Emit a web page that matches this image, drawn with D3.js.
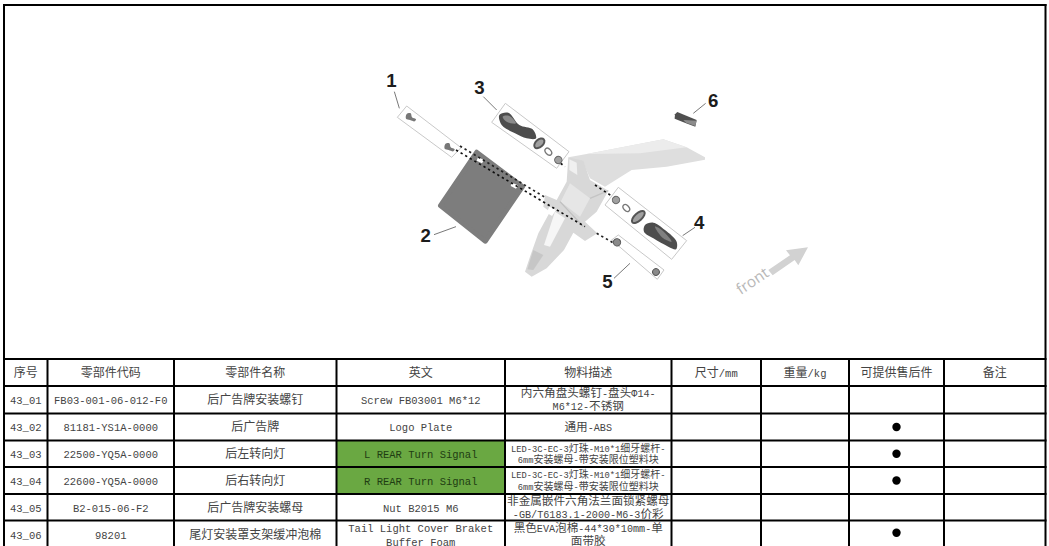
<!DOCTYPE html>
<html>
<head>
    <meta charset="utf-8"/>
    <style>
        html, body { margin: 0; padding: 0; background: #fff; overflow: hidden; }
        text { font-family: "Liberation Mono", "Noto Sans CJK SC", monospace; fill: #444; }
    </style>
</head>
<body>
<div id="sheet"></div>
<script src="https://cdn.jsdelivr.net/npm/d3@7"></script>
<script type="text/javascript">

    // table content
    var headers = ["序号", "零部件代码", "零部件名称", "英文", "物料描述", "尺寸/mm", "重量/kg", "可提供售后件", "备注"];
    var seqNos = ["43_01", "43_02", "43_03", "43_04", "43_05", "43_06"];
    var partCodes = ["FB03-001-06-012-F0", "81181-YS1A-0000", "22500-YQ5A-0000", "22600-YQ5A-0000", "B2-015-06-F2", "98201"];
    var partNames = ["后广告牌安装螺钉", "后广告牌", "后左转向灯", "后右转向灯", "后广告牌安装螺母", "尾灯安装罩支架缓冲泡棉"];
    var englishNames = [["Screw FB03001 M6*12"], ["Logo Plate"], ["L REAR Turn Signal"], ["R REAR Turn Signal"], ["Nut B2015 M6"], ["Tail Light Cover Braket", "Buffer Foam"]];
    var descriptions = [
        ["内六角盘头螺钉-盘头Φ14-", "M6*12-不锈钢"],
        ["通用-ABS"],
        ["LED-3C-EC-3灯珠-M10*1细牙螺杆-", "6mm安装螺母-带安装限位塑料块"],
        ["LED-3C-EC-3灯珠-M10*1细牙螺杆-", "6mm安装螺母-带安装限位塑料块"],
        ["非金属嵌件六角法兰面锁紧螺母", "-GB/T6183.1-2000-M6-3价彩"],
        ["黑色EVA泡棉-44*30*10mm-单", "面带胶"]
    ];
    var afterSale = [false, true, true, true, false, true];
    var highlighted = [false, false, true, true, false, false];

    var w = 1049;
    var h = 546;
    var columnEdges = [4, 47.5, 174, 336.5, 505, 671.5, 761, 849, 944, 1045.5];
    var rowEdges = [359, 386, 413.5, 440.5, 467, 494, 520.5, 560];
    var green = "#6aa842";
    var latinRatio = 0.875;

    var svg = d3.select("#sheet")
        .append("svg")
        .attr("width", w)
        .attr("height", h)
        .style("display", "block");

    var defs = svg.append("defs");
    defs.append("filter").attr("id", "soft")
        .append("feGaussianBlur").attr("stdDeviation", 1.5);

    function colMid(i) {
        return (columnEdges[i] + columnEdges[i + 1]) / 2;
    }

    // ---------- illustration, sketched in 3x crop coordinates ----------
    var outline = d3.line().curve(d3.curveLinearClosed);
    var smooth = d3.line().curve(d3.curveCatmullRomClosed);

    var art = svg.append("g")
        .attr("transform", "translate(540,70) scale(0.3333)");
    var parts = art.append("g").attr("filter", "url(#soft)");

    function poly(pts, fill, stroke, sw) {
        parts.append("path").attr("d", outline(pts)).attr("fill", fill)
            .attr("stroke", stroke || "none").attr("stroke-width", stroke ? (sw || 3) : 0)
            .attr("stroke-linejoin", "round");
    }

    function blob(pts, fill) {
        parts.append("path").attr("d", smooth(pts)).attr("fill", fill);
    }

    function seg(a, b, color, width, dash) {
        parts.append("line")
            .attr("x1", a[0]).attr("y1", a[1]).attr("x2", b[0]).attr("y2", b[1])
            .attr("stroke", color).attr("stroke-width", width)
            .attr("stroke-dasharray", dash || null);
    }

    function ring(cx, cy, rx, ry, fill, stroke, sw) {
        parts.append("ellipse")
            .attr("cx", 0).attr("cy", 0).attr("rx", rx).attr("ry", ry)
            .attr("transform", "translate(" + cx + "," + cy + ") rotate(-42)")
            .attr("fill", fill).attr("stroke", stroke).attr("stroke-width", sw);
    }

    // fender and bracket
    poly([[85, 262], [140, 252], [370, 208], [440, 232], [495, 262], [495, 269], [380, 290], [275, 300], [195, 350], [150, 325], [130, 280]], "#dedede");
    poly([[140, 252], [370, 208], [440, 232], [300, 250]], "#ececec");
    poly([[85, 262], [130, 272], [150, 330], [205, 362], [170, 425], [135, 455], [172, 490], [135, 513], [100, 488], [72, 540], [20, 595], [-25, 620], [-45, 605], [-30, 560], [-5, 490], [30, 425], [10, 410], [15, 375], [50, 390], [80, 335]], "#d8d8d8");
    poly([[45, 425], [75, 445], [30, 530], [12, 525]], "#f6f6f6");
    poly([[28, 410], [48, 420], [36, 438], [20, 428]], "#ffffff");
    poly([[90, 340], [150, 385], [120, 440], [62, 395]], "#e6e6e6");
    poly([[88, 268], [110, 278], [112, 315], [88, 300]], "#f0f0f0");
    poly([[-20, 540], [10, 555], [-20, 600], [-38, 598]], "#c6c6c6");
    seg([60, 395], [130, 470], "#c0c0c0", 4);
    seg([150, 385], [205, 362], "#c4c4c4", 4);

    // exploded part frames
    poly([[-428, 142], [-400, 108], [-237, 233], [-265, 262]], "#ffffff", "#c8c8c8");
    poly([[-145, 157], [-104, 100], [87, 245], [50, 295]], "#ffffff", "#c8c8c8");
    poly([[195, 405], [235, 352], [440, 512], [395, 568]], "#ffffff", "#c8c8c8");
    poly([[215, 510], [235, 495], [372, 600], [352, 628]], "#ffffff", "#c8c8c8");

    // licence plate
    poly([[-190, 246], [-52, 350], [-164, 514], [-299, 407]], "#7d7d7d", "#7d7d7d", 14);
    poly([[-186, 262], [-168, 270], [-174, 280], [-190, 272]], "#ffffff");
    poly([[-84, 338], [-66, 346], [-72, 356], [-88, 348]], "#ffffff");

    // fixing lines
    seg([-240, 228], [15, 382], "#222222", 5, "7 9");
    seg([-252, 240], [135, 470], "#111111", 5, "7 9");
    seg([165, 345], [212, 376], "#111111", 5, "7 9");
    seg([170, 490], [222, 520], "#222222", 5, "7 9");
    seg([62, 280], [75, 290], "#111111", 5, "7 9");

    // screws
    blob([[-400, 132], [-388, 130], [-384, 142], [-372, 148], [-376, 154], [-390, 150], [-402, 146]], "#777777");
    blob([[-284, 222], [-272, 220], [-268, 232], [-256, 238], [-260, 244], [-274, 240], [-286, 236]], "#777777");

    // lamp 3
    blob([[-122, 135], [-95, 128], [-62, 165], [-22, 178], [-12, 205], [-40, 205], [-75, 190], [-115, 165]], "#4e4e4e");
    blob([[-112, 140], [-92, 138], [-72, 160], [-100, 155]], "#8a8a8a");
    ring(-2, 220, 18, 11, "#a0a0a0", "#555555", 6);
    ring(25, 245, 8, 12, "#ffffff", "#777777", 4);
    ring(55, 270, 11, 11, "#a0a0a0", "#666666", 3);

    // lamp 4
    ring(228, 390, 11, 11, "#a0a0a0", "#666666", 3);
    ring(259, 414, 8, 12, "#ffffff", "#777777", 4);
    ring(295, 441, 24, 11, "#a0a0a0", "#555555", 6);
    blob([[315, 465], [340, 458], [375, 480], [410, 515], [408, 538], [385, 530], [340, 505], [312, 485]], "#4e4e4e");
    blob([[345, 470], [368, 482], [395, 515], [370, 505]], "#808080");

    // nuts
    ring(231, 517, 11, 11, "#8a8a8a", "#555555", 3);
    ring(348, 606, 10, 10, "#8a8a8a", "#555555", 3);

    // foam pad
    poly([[405, 133], [412, 126], [470, 150], [466, 170], [438, 160], [404, 146]], "#505050");
    poly([[430, 150], [470, 152], [466, 168], [438, 158]], "#8c8c8c");

    // front arrow
    poly([[685, 600], [750, 556], [738, 541], [804, 532], [775, 586], [764, 570], [698, 616]], "#d2d2d2");

    // leaders
    seg([-437, 65], [-422, 115], "#777777", 3);
    seg([-170, 80], [-130, 120], "#777777", 3);
    seg([-318, 494], [-252, 470], "#777777", 3);
    seg([428, 497], [465, 472], "#777777", 3);
    seg([222, 625], [270, 580], "#777777", 3);
    seg([460, 130], [497, 100], "#777777", 3);

    var calloutLabels = ["1", "2", "3", "4", "5", "6"];
    var calloutX = [-446, -343, -182, 478, 202, 520];
    var calloutY = [30, 495, 52, 456, 635, 92];
    art.selectAll("text.callout")
        .data(calloutLabels)
        .enter()
        .append("text")
        .attr("class", "callout")
        .attr("x", function (d, i) { return calloutX[i]; })
        .attr("y", function (d, i) { return calloutY[i]; })
        .attr("dy", ".36em")
        .attr("text-anchor", "middle")
        .attr("font-size", 56)
        .attr("font-weight", 700)
        .style("font-family", "'Liberation Sans'")
        .style("fill", "#1c1c1c")
        .text(function (d) { return d; });

    art.append("text")
        .attr("transform", "translate(602,676) rotate(-34)")
        .attr("font-size", 46)
        .style("font-family", "'Open Sans'")
        .style("fill", "#b8b8b8")
        .text("front");

    // ---------- table ----------
    var table = svg.append("g");

    highlighted.forEach(function (on, r) {
        if (!on) return;
        table.append("rect")
            .attr("x", columnEdges[3]).attr("width", columnEdges[4] - columnEdges[3])
            .attr("y", rowEdges[r + 1]).attr("height", rowEdges[r + 2] - rowEdges[r + 1])
            .attr("fill", green);
    });

    // latin runs are set smaller so the mono face keeps half-width proportions
    function cellText(c, r, lines, size, gap, fillColor) {
        var top = rowEdges[r];
        var bottom = rowEdges[r + 1];
        var id = "clip-" + c + "-" + r;
        defs.append("clipPath").attr("id", id)
            .append("rect")
            .attr("x", columnEdges[c]).attr("y", top)
            .attr("width", columnEdges[c + 1] - columnEdges[c]).attr("height", bottom - top);
        var midY = r === rowEdges.length - 2 ? 534.5 : (top + bottom) / 2;
        var firstY = midY - (lines.length - 1) * gap / 2;
        var label = table.append("g").attr("clip-path", "url(#" + id + ")")
            .selectAll("text")
            .data(lines)
            .enter()
            .append("text")
            .attr("x", colMid(c))
            .attr("y", function (d, i) { return firstY + i * gap; })
            .attr("dy", ".36em")
            .attr("text-anchor", "middle")
            .attr("font-size", size)
            .style("fill", fillColor || null);
        label.selectAll("tspan")
            .data(function (d) { return d.match(/[\x00-\x7fΦ]+|[^\x00-\x7fΦ]+/g); })
            .enter()
            .append("tspan")
            .attr("font-size", function (d) { return /^[\x00-\x7fΦ]/.test(d) ? size * latinRatio : size; })
            .text(function (d) { return d; });
    }

    headers.forEach(function (d, c) {
        cellText(c, 0, [d], 12, 13);
    });

    seqNos.forEach(function (d, i) {
        var r = i + 1;
        cellText(0, r, [d], 12, 13);
        cellText(1, r, [partCodes[i]], 12, 13);
        cellText(2, r, [partNames[i]], 12, 13);
        cellText(3, r, englishNames[i], 12, 13.4, highlighted[i] ? "#1f3d12" : null);
        var small = descriptions[i][0].indexOf("LED") === 0;
        cellText(4, r, descriptions[i], small ? 10 : 11.6, small ? 11.6 : 13);
        if (afterSale[i]) {
            table.append("circle")
                .attr("class", "dot")
                .attr("cx", colMid(7))
                .attr("cy", (rowEdges[r] + Math.min(rowEdges[r + 1], 546)) / 2 + (i === 5 ? -0.5 : 0))
                .attr("r", 4.2)
                .attr("fill", "#000");
        }
    });

    // grid lines
    table.selectAll("line.v")
        .data(columnEdges)
        .enter()
        .append("line")
        .attr("class", "v")
        .attr("x1", function (d) { return d; })
        .attr("x2", function (d) { return d; })
        .attr("y1", function (d, i) { return (i === 0 || i === columnEdges.length - 1) ? 4 : rowEdges[0]; })
        .attr("y2", h)
        .attr("stroke", "#000")
        .attr("stroke-width", 2);

    table.selectAll("line.h")
        .data([5].concat(rowEdges.slice(0, -1)))
        .enter()
        .append("line")
        .attr("class", "h")
        .attr("x1", columnEdges[0] - 1)
        .attr("x2", columnEdges[columnEdges.length - 1] + 1)
        .attr("y1", function (d) { return d; })
        .attr("y2", function (d) { return d; })
        .attr("stroke", "#000")
        .attr("stroke-width", 2);

</script>
</body>
</html>
